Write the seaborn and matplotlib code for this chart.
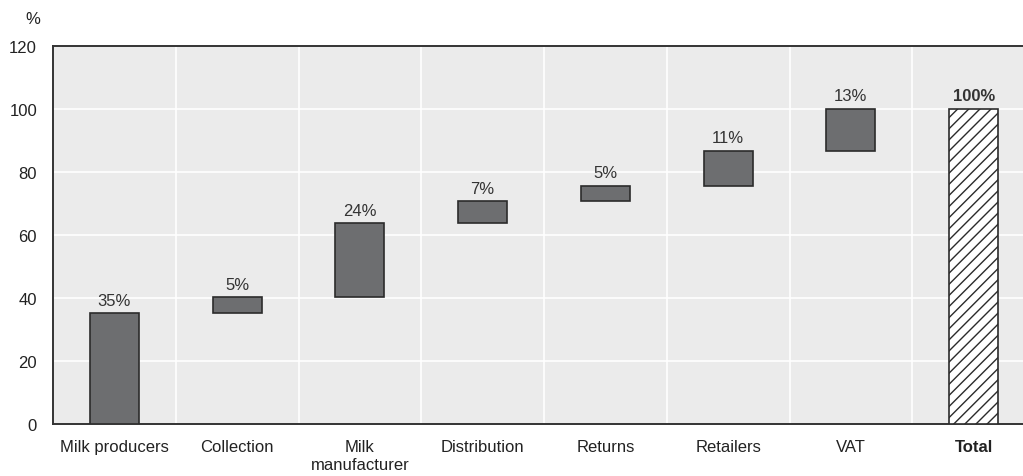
import matplotlib
matplotlib.use("Agg")
import matplotlib.pyplot as plt
import seaborn as sns
import numpy as np

categories = ["Milk producers", "Collection", "Milk\nmanufacturer", "Distribution",
              "Returns", "Retailers", "VAT", "Total"]
segments = [35.2, 5.0, 23.5, 7.0, 5.0, 11.0, 13.3]
total = 100.0
labels = ["35%", "5%", "24%", "7%", "5%", "11%", "13%", "100%"]
yticks = [0, 20, 40, 60, 80, 100, 120]

heights = segments + [total]
bottoms = list(np.concatenate([[0], np.cumsum(segments)[:-1]])) + [0.0]

sns.set_style("white")
plt.rcParams["font.family"] = ["Liberation Sans Narrow", "Liberation Sans", "DejaVu Sans"]
plt.rcParams["hatch.linewidth"] = 1.0

fig = plt.figure(figsize=(10.23, 4.77), dpi=100)
ax = fig.add_axes([53 / 1023, 1 - 425 / 477, 1 - 53 / 1023 + 12 / 1023, (425 - 47) / 477])
ax.set_facecolor("#ebebeb")

sns.barplot(x=categories, y=heights, bottom=bottoms, ax=ax, color="#6d6e70",
            width=0.4, edgecolor="#2b2b2b", linewidth=1.2, saturation=1, zorder=3)

for i, p in enumerate(ax.patches):
    if i == len(ax.patches) - 1:
        p.set_facecolor("white")
        p.set_hatch("///")
        p.set_edgecolor("#2b2b2b")

for i, (b, h, lab) in enumerate(zip(bottoms, heights, labels)):
    ax.annotate(lab, (i, b + h), xytext=(0, 4), textcoords="offset points",
                ha="center", va="bottom", fontsize=12, color="#333333",
                fontweight="bold" if i == len(labels) - 1 else "normal", zorder=4)

ax.set_ylim(0, 120)
ax.set_yticks(yticks)
ax.set_xlim(-0.5, 7.5)
ax.set_xticks(np.arange(len(categories)))
ax.set_xticks(np.arange(0.5, len(categories) - 1, 1.0), minor=True)
ax.set_xticklabels(categories, fontsize=12, color="#222222")
for t in ax.get_xticklabels():
    if t.get_text() == "Total":
        t.set_fontweight("bold")
ax.tick_params(axis="x", which="major", length=0, pad=11)
ax.tick_params(axis="x", which="minor", direction="in", length=5, width=1, color="#555555")
ax.tick_params(axis="y", direction="in", length=7, width=1, color="#333333",
               labelsize=12, labelcolor="#222222", pad=11.5)

ax.grid(True, axis="y", color="white", linewidth=1.2, zorder=0)
ax.grid(True, axis="x", which="minor", color="white", linewidth=1.2, zorder=0)
ax.grid(False, axis="x", which="major")
ax.set_axisbelow(True)

for s in ["top", "left", "bottom"]:
    ax.spines[s].set_visible(True)
    ax.spines[s].set_color("#333333")
    ax.spines[s].set_linewidth(1.4)
ax.spines["right"].set_visible(False)

ax.set_xlabel("")
ax.set_ylabel("")
fig.text(33 / 1023, 1 - 20 / 477, "%", fontsize=12, color="#222222", ha="center", va="center")

fig.savefig("out.png", dpi=100)
